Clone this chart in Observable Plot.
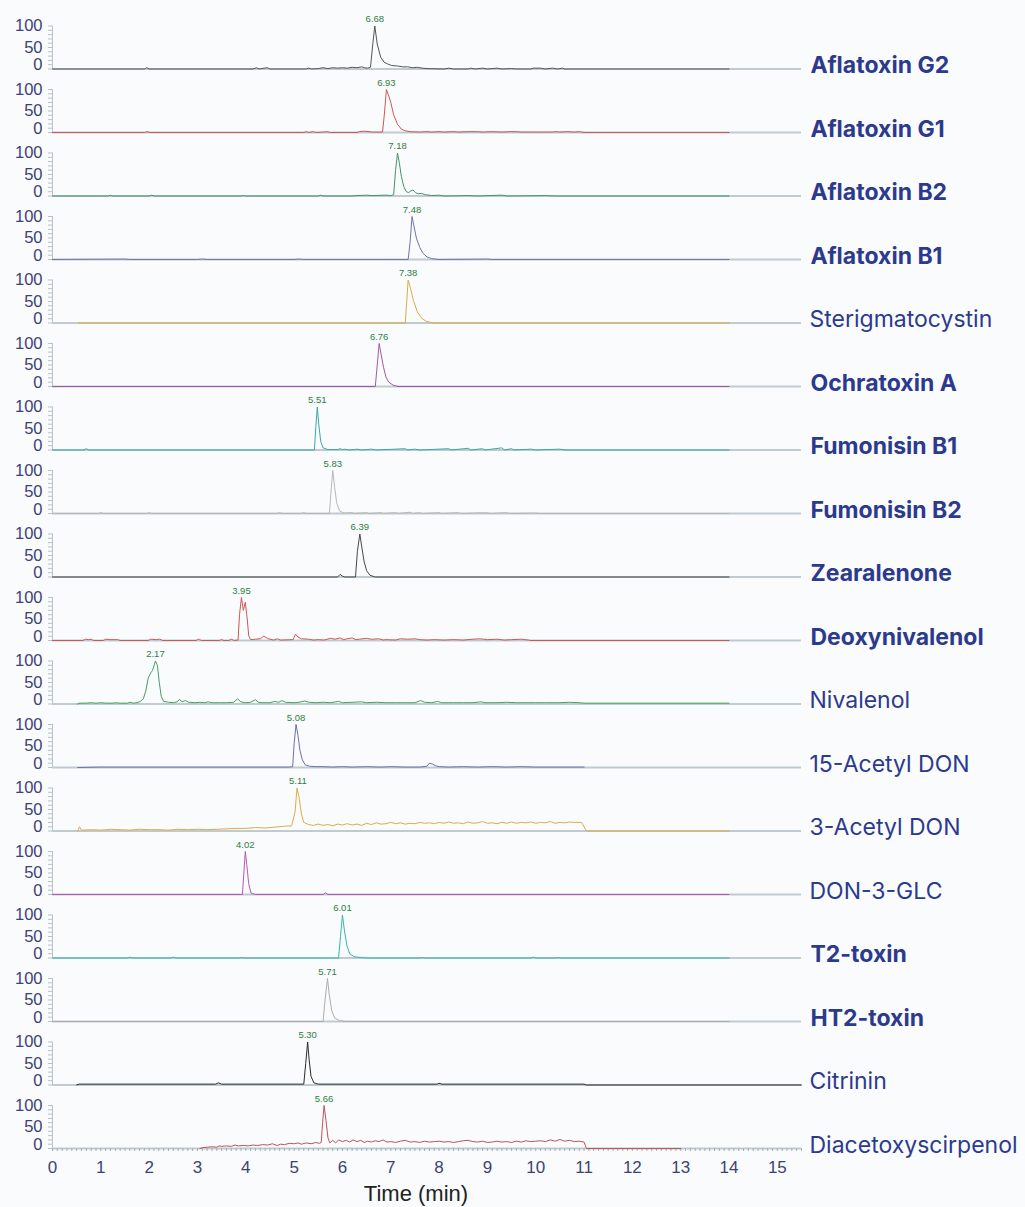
<!DOCTYPE html>
<html><head><meta charset="utf-8">
<script src="https://cdn.jsdelivr.net/npm/d3@7"></script>
<script src="https://cdn.jsdelivr.net/npm/@observablehq/plot@0.6"></script>
<style>
html,body{margin:0;padding:0;background:#fafbfc;}
#chart{width:1025px;height:1207px;}
</style></head><body><div id="chart"></div>
<script>
const compounds = ["Aflatoxin G2","Aflatoxin G1","Aflatoxin B2","Aflatoxin B1","Sterigmatocystin","Ochratoxin A","Fumonisin B1","Fumonisin B2","Zearalenone","Deoxynivalenol","Nivalenol","15-Acetyl DON","3-Acetyl DON","DON-3-GLC","T2-toxin","HT2-toxin","Citrinin","Diacetoxyscirpenol"];
const boldCompounds = ["Aflatoxin G2","Aflatoxin G1","Aflatoxin B2","Aflatoxin B1","Ochratoxin A","Fumonisin B1","Fumonisin B2","Zearalenone","Deoxynivalenol","T2-toxin","HT2-toxin"];
const traceColors = ["#555555","#c65a57","#469266","#7075aa","#dbad42","#a059aa","#38a8aa","#b8b8b8","#474747","#c75a58","#45a061","#6f70ac","#d9ae47","#b458b9","#35b6aa","#adadad","#2a2a2a","#bd5454"];
const peakTimes = [6.68,6.93,7.18,7.48,7.38,6.76,5.51,5.83,6.39,3.95,2.17,5.08,5.11,4.02,6.01,5.71,5.30,5.66];
const peakLabelTimes = [6.67,6.91,7.14,7.44,7.36,6.76,5.48,5.80,6.36,3.91,2.13,5.04,5.08,3.99,6.0,5.69,5.28,5.62];

const aflatoxinG2 = [[0,0],[1.9,0],[1.95,3],[2.0,0],[4.15,0],[4.22,3],[4.28,0],[4.38,2],[4.45,3],[4.5,0],[5.25,0],[5.3,2],[5.36,0],[5.5,1],[5.6,3],[5.7,1],[5.8,3],[5.9,2],[6.0,3],[6.1,2],[6.2,4],[6.3,3],[6.4,5],[6.46,3],[6.52,2],[6.58,4],[6.63,60],[6.67,100],[6.72,58],[6.79,28],[6.86,16],[6.93,12],[7.02,8],[7.14,7],[7.25,5],[7.35,5],[7.45,3],[7.55,4],[7.65,2],[7.75,1],[8.1,0],[8.2,2],[8.3,0],[8.6,0],[8.65,2],[8.75,0],[8.9,2],[9.0,0],[9.2,2],[9.3,0],[9.5,1],[9.6,0],[9.9,0],[9.95,2],[10.1,2],[10.2,0],[10.35,2],[10.45,0],[10.55,2],[10.6,0],[14,0]];
const aflatoxinG1 = [[0,0],[1.9,0],[1.96,2],[2.02,0],[5.2,0],[5.25,2],[5.3,0],[5.4,2],[5.45,0],[5.6,1],[5.68,2],[5.75,0],[6.3,0],[6.35,2],[6.45,3],[6.55,2],[6.62,1],[6.83,1],[6.87,45],[6.91,100],[6.96,85],[7.0,70],[7.06,41],[7.14,19],[7.22,8],[7.3,4],[7.4,2],[7.6,1],[7.75,2],[7.85,1],[8.0,2],[8.1,1],[8.3,2],[8.4,1],[8.6,2],[8.8,2],[8.9,1],[9.1,2],[9.3,1],[9.45,2],[9.6,2],[9.7,1],[10.35,1],[10.4,2],[10.5,1],[10.65,2],[10.8,1],[10.9,2],[11.0,0],[14,0]];
const aflatoxinB2 = [[0,0],[1.15,0],[1.2,2],[1.25,0],[2.0,0],[2.05,2],[2.1,0],[3.9,0],[3.95,1],[4.0,0],[5.5,0],[5.55,2],[5.6,0],[6.2,0],[6.3,1],[6.5,2],[6.6,1],[6.9,2],[7.0,1],[7.06,3],[7.1,60],[7.14,100],[7.18,75],[7.22,45],[7.27,22],[7.32,10],[7.37,8],[7.42,12],[7.46,14],[7.51,8],[7.57,5],[7.63,6],[7.72,3],[7.85,1],[8.0,2],[8.1,0],[8.6,1],[8.8,0],[9.3,2],[9.4,0],[10.2,1],[10.4,0],[14,0]];
const aflatoxinB1 = [[0,0],[1.5,1],[1.6,0],[3.0,0],[3.1,1],[3.2,0],[5.0,0],[5.1,1],[5.2,0],[7.36,0],[7.4,40],[7.44,100],[7.48,78],[7.53,50],[7.6,28],[7.67,14],[7.75,6],[7.85,2],[8.0,0],[9.0,1],[9.1,0],[14,0]];
const sterigmatocystin = [[0.54,0],[7.3,0],[7.33,50],[7.36,100],[7.41,80],[7.47,52],[7.55,26],[7.63,12],[7.73,4],[7.88,0],[14,0]];
const ochratoxinA = [[0,0],[6.68,0],[6.72,50],[6.76,100],[6.8,75],[6.85,45],[6.9,22],[6.96,10],[7.05,3],[7.15,0],[14,0]];
const fumonisinB1 = [[0,0],[0.65,0],[0.7,3],[0.75,0],[5.42,0],[5.45,55],[5.48,100],[5.51,60],[5.55,20],[5.6,5],[5.7,1],[5.9,1],[5.95,3],[6.0,1],[6.05,2],[6.15,0],[6.3,2],[6.4,0],[6.6,2],[6.7,0],[7.3,3],[7.35,0],[7.5,2],[7.6,0],[8.2,3],[8.25,0],[8.6,4],[8.65,0],[8.9,3],[8.95,0],[9.3,5],[9.35,0],[9.5,3],[9.55,0],[9.9,2],[10.0,0],[10.5,2],[10.6,0],[14,0]];
const fumonisinB2 = [[0,0],[0.95,0],[1.0,2],[1.05,0],[1.95,0],[2.0,2],[2.05,0],[4.65,0],[4.7,2],[4.75,0],[5.15,0],[5.2,2],[5.25,0],[5.73,0],[5.77,60],[5.8,100],[5.84,60],[5.88,25],[5.94,6],[6.03,1],[6.2,2],[6.25,0],[6.5,2],[6.55,0],[6.8,2],[6.85,0],[7.1,2],[7.15,0],[7.4,3],[7.45,0],[7.6,2],[7.65,0],[8.0,2],[8.05,0],[8.4,2],[8.45,0],[9.0,2],[9.05,0],[9.4,2],[9.45,0],[10.0,1],[10.05,0],[14,0]];
const zearalenone = [[0,0],[5.9,0],[5.95,6],[6.0,2],[6.05,0],[6.27,0],[6.31,60],[6.36,100],[6.4,70],[6.45,35],[6.5,15],[6.57,4],[6.68,0],[14,0]];
const deoxynivalenol = [[0,0],[0.63,0],[0.68,3],[0.75,2],[0.8,3],[0.85,0],[1.05,0],[1.1,3],[1.2,2],[1.35,2],[1.4,0],[1.98,0],[2.03,3],[2.15,2],[2.22,3],[2.28,0],[2.97,0],[3.02,3],[3.08,0],[3.45,0],[3.5,2],[3.55,0],[3.65,0],[3.7,3],[3.76,0],[3.84,1],[3.87,60],[3.91,100],[3.95,70],[3.99,89],[4.03,50],[4.06,11],[4.1,2],[4.2,3],[4.3,4],[4.37,10],[4.45,5],[4.5,3],[4.58,1],[4.65,4],[4.72,1],[4.98,2],[5.03,15],[5.08,8],[5.15,4],[5.3,3],[5.4,1],[5.5,2],[5.62,1],[5.75,5],[5.85,3],[5.95,6],[6.02,2],[6.1,4],[6.2,6],[6.28,2],[6.35,3],[6.5,5],[6.6,3],[6.75,4],[6.85,1],[6.9,2],[7.1,1],[7.2,4],[7.35,3],[7.5,4],[7.6,2],[7.75,1],[7.9,2],[8.1,1],[8.3,2],[8.5,1],[8.7,3],[8.85,4],[9.0,2],[9.2,3],[9.35,1],[9.5,2],[9.7,3],[9.85,1],[9.9,0],[14,0]];
const nivalenol = [[0.52,0],[0.55,2],[0.7,2],[0.8,3],[0.9,2],[1.0,3],[1.1,2],[1.25,2],[1.3,3],[1.4,2],[1.55,2],[1.6,4],[1.68,2],[1.75,3],[1.82,6],[1.88,12],[1.93,30],[1.98,60],[2.03,72],[2.07,78],[2.13,100],[2.17,90],[2.21,50],[2.25,18],[2.3,6],[2.4,4],[2.5,3],[2.58,5],[2.63,11],[2.68,5],[2.75,8],[2.82,4],[2.95,3],[3.05,4],[3.15,3],[3.22,5],[3.3,3],[3.45,3],[3.6,3],[3.75,4],[3.83,12],[3.9,5],[4.0,3],[4.1,4],[4.2,10],[4.26,4],[4.35,3],[4.5,3],[4.6,6],[4.68,4],[4.75,8],[4.82,4],[5.0,3],[5.1,4],[5.22,7],[5.3,4],[5.45,3],[5.6,4],[5.75,3],[5.92,6],[6.0,3],[6.2,4],[6.4,5],[6.5,3],[6.7,4],[6.9,3],[7.1,3],[7.3,3],[7.5,3],[7.62,8],[7.7,4],[7.85,3],[7.97,6],[8.05,3],[8.3,3],[8.5,3],[8.7,3],[8.87,5],[8.95,3],[9.2,3],[9.4,4],[9.6,3],[9.8,3],[10.0,3],[10.2,3],[10.5,3],[10.7,4],[10.9,3],[11.0,2],[14,2]];
const acetyl15DON = [[0.52,0],[1.0,1],[2.0,1],[3.0,1],[4.0,1],[4.9,1],[4.97,2],[5.0,55],[5.04,100],[5.08,75],[5.12,40],[5.17,18],[5.23,6],[5.32,3],[5.45,2],[5.6,2],[5.8,1],[6.0,2],[6.2,1],[6.5,2],[6.8,1],[7.0,2],[7.3,1],[7.6,1],[7.75,3],[7.8,10],[7.86,8],[7.93,4],[8.0,2],[8.2,1],[8.5,2],[8.8,1],[9.1,2],[9.4,1],[9.7,2],[10.0,1],[10.4,1],[10.7,1],[11.0,1]];
const acetyl3DON = [[0.52,0],[0.56,10],[0.6,2],[0.8,3],[1.0,2],[1.2,4],[1.4,3],[1.6,2],[1.8,4],[2.0,3],[2.2,3],[2.4,2],[2.6,4],[2.8,3],[3.0,4],[3.2,3],[3.4,4],[3.6,5],[3.8,6],[4.0,6],[4.2,8],[4.4,7],[4.6,9],[4.8,11],[4.95,12],[5.02,45],[5.06,100],[5.1,80],[5.15,40],[5.2,20],[5.3,15],[5.4,13],[5.5,16],[5.6,13],[5.7,15],[5.8,12],[5.9,16],[6.0,14],[6.1,17],[6.2,14],[6.3,16],[6.4,13],[6.5,18],[6.6,15],[6.7,19],[6.8,16],[6.9,17],[7.0,20],[7.1,17],[7.2,19],[7.3,16],[7.4,18],[7.5,17],[7.6,20],[7.7,18],[7.8,19],[7.9,17],[8.0,20],[8.1,18],[8.2,21],[8.3,18],[8.4,19],[8.5,17],[8.6,21],[8.7,18],[8.8,19],[8.9,22],[9.0,18],[9.1,19],[9.2,17],[9.3,20],[9.4,18],[9.5,21],[9.6,18],[9.7,20],[9.8,19],[9.9,21],[10.0,18],[10.1,20],[10.2,19],[10.3,22],[10.4,18],[10.5,20],[10.6,19],[10.7,21],[10.8,20],[10.95,20],[11.05,0],[14,0]];
const don3GLC = [[0,0],[3.93,0],[3.96,50],[3.99,100],[4.02,70],[4.06,25],[4.11,3],[4.2,0],[5.6,0],[5.65,4],[5.7,0],[14,0]];
const t2toxin = [[0,0],[1.55,0],[1.6,2],[1.65,0],[2.45,0],[2.5,2],[2.55,0],[3.85,0],[3.9,1],[3.95,0],[5.92,0],[5.96,50],[6.0,100],[6.04,65],[6.09,30],[6.15,10],[6.24,3],[6.4,1],[6.5,0],[7.6,0],[7.65,1],[7.7,0],[9.9,0],[9.95,2],[10.0,0],[10.4,0],[10.45,1],[10.5,0],[14,0]];
const ht2toxin = [[0,0],[5.6,0],[5.64,50],[5.69,100],[5.73,60],[5.78,25],[5.84,8],[5.94,2],[6.05,0],[14,0]];
const citrinin = [[0.5,0],[0.55,2],[3.38,2],[3.43,5],[3.5,2],[5.2,2],[5.24,50],[5.28,100],[5.31,60],[5.35,20],[5.41,5],[5.5,2],[7.96,2],[8.0,4],[8.06,2],[11.0,2],[11.05,0],[15.5,0]];
const diacetoxyscirpenol = [[3.05,0],[3.1,2],[3.2,3],[3.3,4],[3.4,3],[3.45,6],[3.5,5],[3.6,6],[3.7,5],[3.78,8],[3.85,6],[3.95,7],[4.05,6],[4.15,8],[4.25,7],[4.35,9],[4.45,8],[4.55,11],[4.65,7],[4.72,10],[4.8,9],[4.9,12],[5.0,11],[5.08,13],[5.15,10],[5.25,13],[5.35,11],[5.45,14],[5.52,12],[5.56,14],[5.59,60],[5.62,100],[5.66,65],[5.7,25],[5.74,13],[5.8,19],[5.86,13],[5.92,20],[6.0,16],[6.08,19],[6.15,15],[6.22,20],[6.3,16],[6.38,19],[6.45,14],[6.52,17],[6.6,15],[6.68,18],[6.76,16],[6.84,20],[6.92,15],[7.0,16],[7.1,14],[7.2,17],[7.3,19],[7.4,15],[7.5,16],[7.6,14],[7.7,17],[7.8,15],[7.9,16],[8.0,17],[8.1,15],[8.2,16],[8.3,14],[8.4,16],[8.5,18],[8.6,19],[8.7,16],[8.8,15],[8.9,17],[9.0,14],[9.1,15],[9.2,17],[9.3,15],[9.4,16],[9.5,14],[9.6,17],[9.7,15],[9.8,18],[9.9,16],[10.0,17],[10.1,18],[10.2,16],[10.3,20],[10.4,17],[10.5,21],[10.6,17],[10.7,19],[10.8,16],[10.9,17],[11.0,15],[11.05,0],[13.0,0]];

const traces = [aflatoxinG2,aflatoxinG1,aflatoxinB2,aflatoxinB1,sterigmatocystin,ochratoxinA,fumonisinB1,fumonisinB2,zearalenone,deoxynivalenol,nivalenol,acetyl15DON,acetyl3DON,don3GLC,t2toxin,ht2toxin,citrinin,diacetoxyscirpenol];

const xTicks = d3.range(0, 16);
const xMinorTicks = d3.range(0, 156).map(d => d / 10);
const yMinorTicks = d3.range(0, 101, 10);

const rows = compounds.flatMap((name, i) => traces[i].map(([t, v]) => ({name, t, v})));
const peaks = compounds.map((name, i) => ({name, t: peakLabelTimes[i], label: peakTimes[i].toFixed(2)}));
const boldSet = new Set(boldCompounds);

const chart = Plot.plot({
  width: 1025, height: 1207,
  marginLeft: 52, marginRight: 224, marginTop: 25.5, marginBottom: 59,
  style: {background: "transparent", fontFamily: "'Liberation Sans', Arial, sans-serif", overflow: "visible"},
  x: {domain: [0, 15.5]},
  y: {domain: [0, 100]},
  fy: {domain: compounds, axis: null, paddingInner: 0.3228, paddingOuter: 0, round: false},
  color: {domain: compounds, range: traceColors},
  marks: [
    Plot.ruleY([0], {stroke: "#bfcbd0", strokeWidth: 2}),
    Plot.ruleX([0], {y1: 0, y2: 100, stroke: "#b6c3c9"}),
    Plot.axisY(yMinorTicks, {tickSize: 4, text: null, stroke: "#b6c3c9", label: null}),
    Plot.axisY([50, 100], {tickSize: 0, tickPadding: 10, fontSize: 16.5, fill: "#3d4274", label: null}),
    Plot.axisY([0], {tickSize: 0, tickPadding: 10, fontSize: 16.5, fill: "#3d4274", dy: -4, label: null}),
    Plot.axisX(xMinorTicks, {tickSize: 3, text: null, stroke: "#9fb0b8", label: null}),
    Plot.axisX(xTicks, {tickSize: 0, tickPadding: 12, fontSize: 17, fill: "#3d4274", label: null}),
    Plot.line(rows, {x: "t", y: "v", z: "name", stroke: "name", fy: "name", strokeWidth: 1}),
    Plot.text(peaks, {x: "t", y: () => 100, fy: "name", text: "label", dy: -7, fontSize: 9.5, fill: "#2f7d45"}),
    Plot.text(compounds.filter(d => boldSet.has(d)), {fy: d => d, y: () => 0, frameAnchor: "right", textAnchor: "start", dx: 9, dy: -3, text: d => d, fontWeight: "bold", fontSize: 23, fontFamily: "Inter", fill: "#2c3a8e"}),
    Plot.text(compounds.filter(d => !boldSet.has(d)), {fy: d => d, y: () => 0, frameAnchor: "right", textAnchor: "start", dx: 8, dy: -3, text: d => d, fontSize: 23, fontFamily: "Inter", fill: "#2c3a8e"}),
    Plot.text(["Time (min)"], {fy: () => compounds[compounds.length - 1], frameAnchor: "bottom", dx: -11, dy: 52, fontSize: 22, fill: "#222"})
  ]
});
document.getElementById("chart").appendChild(chart);
</script></body></html>
